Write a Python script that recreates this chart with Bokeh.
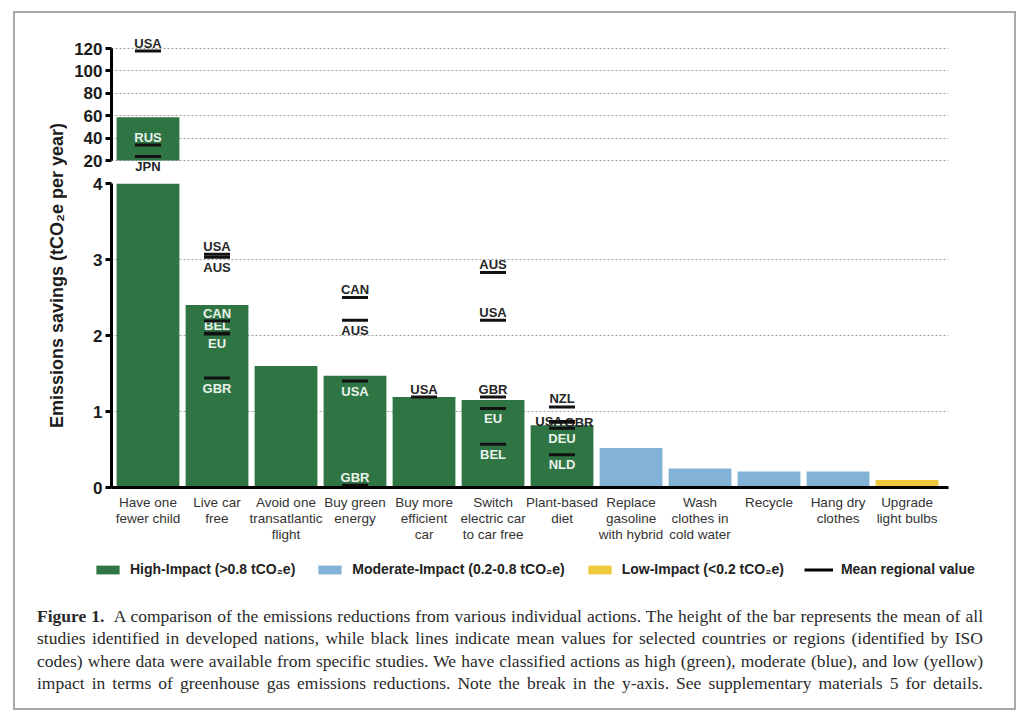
import math
from bokeh.plotting import figure
from bokeh.models import (ColumnDataSource, Range1d, FixedTicker, Legend, LegendItem,
                          Label, Div, Spacer, Column, Row)
from bokeh.embed import file_html
from bokeh.resources import INLINE
from bokeh.core.properties import value

# ---------------- data ----------------
actions = ["Have one\nfewer child", "Live car\nfree", "Avoid one\ntransatlantic\nflight",
           "Buy green\nenergy", "Buy more\nefficient\ncar", "Switch\nelectric car\nto car free",
           "Plant-based\ndiet", "Replace\ngasoline\nwith hybrid", "Wash\nclothes in\ncold water",
           "Recycle", "Hang dry\nclothes", "Upgrade\nlight bulbs"]
savings = [58.6, 2.4, 1.6, 1.47, 1.19, 1.15, 0.82, 0.52, 0.25, 0.21, 0.21, 0.10]
impact = ["High", "High", "High", "High", "High", "High", "High",
          "Moderate", "Moderate", "Moderate", "Moderate", "Low"]
impact_order = ["High", "Moderate", "Low"]
impact_names = {"High": "High-Impact (>0.8 tCO\u2082e)",
                "Moderate": "Moderate-Impact (0.2-0.8 tCO\u2082e)",
                "Low": "Low-Impact (<0.2 tCO\u2082e)"}
mean_label = "Mean regional value"

region_action = [0, 0, 0, 1, 1, 1, 1, 1, 1, 3, 3, 3, 3, 4, 5, 5, 5, 5, 5, 6, 6, 6, 6, 6]
region_code = ["USA", "RUS", "JPN", "USA", "AUS", "CAN", "BEL", "EU", "GBR",
               "CAN", "AUS", "USA", "GBR", "USA", "AUS", "USA", "GBR", "EU", "BEL",
               "NZL", "USA", "GBR", "DEU", "NLD"]
region_value = [117.7, 33.8, 23.6, 3.07, 3.03, 2.19, 2.03, 2.02, 1.44,
                2.5, 2.2, 1.4, 0.03, 1.19, 2.83, 2.2, 1.19, 1.04, 0.57,
                1.06, 0.87, 0.86, 0.78, 0.43]
region_side = ["above", "above", "below", "above", "below", "above", "above", "below", "below",
               "above", "below", "below", "above", "above", "above", "above", "above", "below", "below",
               "above", "mid", "mid", "below", "below"]

top_ticks = [20, 40, 60, 80, 100, 120]
bottom_ticks = [0, 1, 2, 3, 4]
axis_break = (4, 20)

y_title = "Emissions savings (tCO\u2082e per year)"
caption_lines = [
    "<b>Figure 1.</b>&nbsp; A comparison of the emissions reductions from various individual actions. The height of the bar represents the mean of all",
    "studies identified in developed nations, while black lines indicate mean values for selected countries or regions (identified by ISO",
    "codes) where data were available from specific studies. We have classified actions as high (green), moderate (blue), and low (yellow)",
    "impact in terms of greenhouse gas emissions reductions. Note the break in the y-axis. See supplementary materials 5 for details.",
]

# ---------------- style ----------------
FONT = "Liberation Sans"
colors = {"High": "#2f7544", "Moderate": "#82b2d6", "Low": "#efc83c"}
GRID = "#9c9c9c"
DARK = "#262626"
LIGHT = "#e9f1eb"
BAR_W = 0.91
X_RANGE = (-0.529, 11.601)
TOP_SCALE = 1.12     # px per unit in upper panel
BOT_SCALE = 76.0     # px per unit in lower panel
OFF = {"above": -8, "below": 10, "mid": 0}
XOFF = {(6, "USA"): -13, (6, "GBR"): 17}

W = 937
xs = list(range(len(actions)))
bar_colors = [colors[c] for c in impact]


def plain(p):
    p.outline_line_color = None
    p.background_fill_color = "white"
    p.border_fill_color = "white"


def style_y(p, ticks):
    ax = p.yaxis[0]
    ax.ticker = FixedTicker(ticks=ticks)
    ax.bounds = (ticks[0], ticks[-1])
    ax.axis_line_width = 3
    ax.axis_line_color = "black"
    ax.major_tick_line_width = 3
    ax.major_tick_line_color = "black"
    ax.major_tick_out = 6
    ax.major_tick_in = 0
    ax.minor_tick_line_color = None
    ax.major_label_text_font = FONT
    ax.major_label_text_font_style = "bold"
    ax.major_label_text_font_size = "17px"
    ax.major_label_text_color = "#1c1c1c"
    ax.major_label_standoff = 3
    g = p.ygrid[0]
    g.ticker = FixedTicker(ticks=ticks)
    g.grid_line_color = GRID
    g.grid_line_dash = "2 2"
    g.grid_line_width = 1.2
    p.xgrid.visible = False
    plain(p)


def add_regions(p, in_top, lo, scale):
    rx, ry, rc, rxo, ryo, rcol = [], [], [], [], [], []
    for a, c, v, s in zip(region_action, region_code, region_value, region_side):
        if (v >= axis_break[1]) != in_top:
            continue
        yo = OFF[s]
        center_val = v - yo / scale
        inside = lo <= center_val <= savings[a]
        rx.append(a)
        ry.append(v)
        rc.append(c)
        rxo.append(XOFF.get((a, c), 0))
        ryo.append(yo)
        rcol.append(LIGHT if inside else DARK)
    src = ColumnDataSource(dict(x=rx, y=ry, code=rc, xo=rxo, yo=ryo, col=rcol))
    p.text(x="x", y="y", text="code", source=src, x_offset="xo", y_offset="yo",
           text_color="col", text_font=value(FONT), text_font_style="bold",
           text_font_size="13px", text_align="center", text_baseline="middle")
    p.scatter(x="x", y="y", source=src, marker="dash", size=26, line_width=3,
              line_color="#111111")
    return src


# ---------------- upper panel ----------------
top = figure(width=W, height=162, x_range=Range1d(*X_RANGE),
             y_range=Range1d(20 - 15 / TOP_SCALE, 120 + 17 / TOP_SCALE),
             output_backend="svg", toolbar_location=None,
             min_border_left=44, min_border_right=56, min_border_top=18, min_border_bottom=0,
             x_axis_location=None)
style_y(top, top_ticks)
tsel = [i for i in xs if savings[i] > axis_break[1]]
top_src = ColumnDataSource(dict(x=tsel, top=[savings[i] for i in tsel],
                                color=[bar_colors[i] for i in tsel]))
top.vbar(x="x", top="top", bottom=axis_break[1], width=BAR_W, source=top_src,
         fill_color="color", line_color=None)
add_regions(top, True, axis_break[1], TOP_SCALE)

# ---------------- lower panel ----------------
bot = figure(width=W, height=376, x_range=Range1d(*X_RANGE),
             y_range=Range1d(0, axis_break[0]),
             output_backend="svg", toolbar_location=None,
             min_border_left=44, min_border_right=56, min_border_top=8, min_border_bottom=64)
style_y(bot, bottom_ticks)
bot_src = ColumnDataSource(dict(x=xs, top=savings, color=bar_colors))
bot.vbar(x="x", top="top", bottom=0, width=BAR_W, source=bot_src,
         fill_color="color", line_color=None)
reg_src = add_regions(bot, False, 0, BOT_SCALE)
xa = bot.xaxis[0]
xa.ticker = FixedTicker(ticks=xs)
xa.major_label_overrides = {i: lab for i, lab in zip(xs, actions)}
xa.axis_line_width = 3
xa.axis_line_color = "black"
xa.major_tick_line_color = None
xa.minor_tick_line_color = None
xa.major_label_text_font = FONT
xa.major_label_text_font_size = "13.5px"
xa.major_label_text_line_height = 1.08
xa.major_label_text_color = "#333333"
xa.major_label_standoff = 1

# ---------------- y-axis title ----------------
yl = figure(width=52, height=538, x_range=Range1d(0, 1), y_range=Range1d(0, 1),
            output_backend="svg", toolbar_location=None, min_border=0,
            x_axis_location=None, y_axis_location=None)
plain(yl)
yl.xgrid.visible = False
yl.ygrid.visible = False
yl.add_layout(Label(x=41, y=276, x_units="screen", y_units="screen", text=y_title,
                    angle=math.pi / 2, text_align="center", text_baseline="middle",
                    text_font=FONT, text_font_style="bold", text_font_size="18px",
                    text_color="#1c1c1c"))

# ---------------- legend ----------------
# hidden renderers sharing the real data act only as legend swatches
lf = figure(width=989, height=40, x_range=Range1d(1000, 1001), y_range=Range1d(0, 1),
            output_backend="svg", toolbar_location=None, min_border=0,
            x_axis_location=None, y_axis_location=None)
plain(lf)
lf.xgrid.visible = False
lf.ygrid.visible = False
lbars = lf.vbar(x="x", top="top", bottom=0, width=BAR_W, source=bot_src,
                fill_color="color", line_color=None, visible=False)
lline = lf.line(x="x", y="y", source=reg_src, line_color="black", line_width=3,
                visible=False)
items = [LegendItem(label=impact_names[k], renderers=[lbars], index=impact.index(k))
         for k in impact_order]
items.append(LegendItem(label=mean_label, renderers=[lline]))
leg = Legend(items=items, orientation="horizontal", location=(78, 14),
             glyph_width=29, glyph_height=11, label_height=11, label_standoff=8,
             spacing=20, padding=0, margin=0, border_line_color=None,
             background_fill_alpha=0, inactive_fill_alpha=0,
             label_text_font=FONT, label_text_font_style="bold",
             label_text_font_size="14px", label_text_color="#222222")
lf.add_layout(leg)

# ---------------- caption ----------------
lines_html = "".join(
    '<div style="text-align:justify;text-align-last:justify;width:946px;white-space:nowrap;">'
    + ln + '</div>'
    for ln in caption_lines)
cap_html = ('<div style="font-family:\'Liberation Serif\',serif;font-size:17.5px;'
            'line-height:22.3px;color:#2a2a2a;width:946px;padding:9px 0 0 17px;">'
            + lines_html + '</div>')
cap = Div(text=cap_html, width=989, height=107)

# ---------------- layout ----------------
chart = Row(children=[yl, Column(children=[top, bot])])
inner = Column(children=[chart, lf, cap],
               styles={"border": "2px solid #a9a9a9", "background-color": "white"})
page = Column(children=[Spacer(height=11), Row(children=[Spacer(width=13), inner])])

open("out.html", "w").write(file_html(page, INLINE))
